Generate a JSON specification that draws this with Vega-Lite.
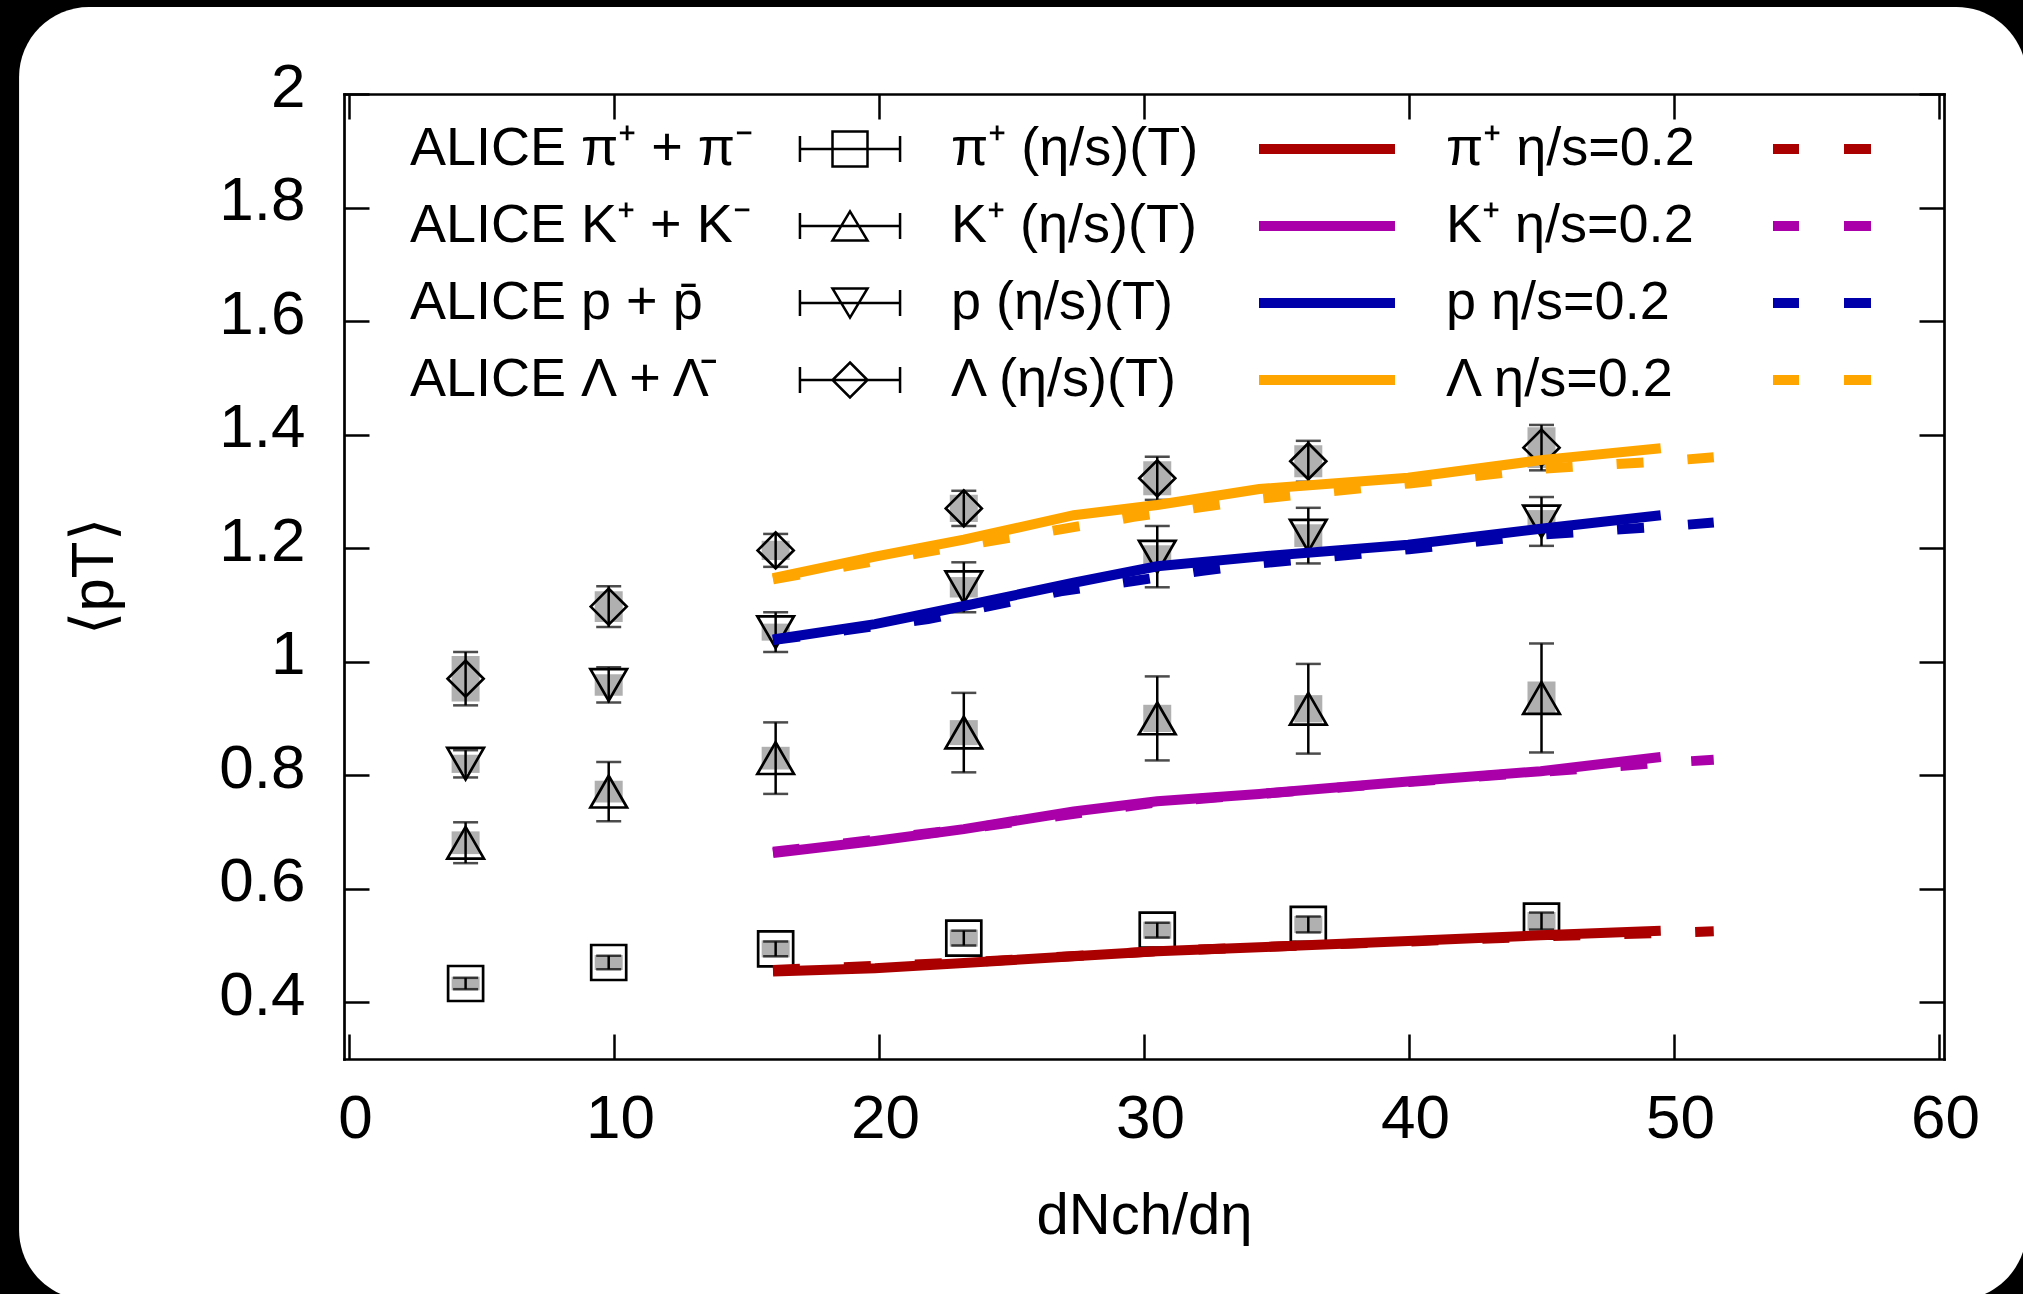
{
  "$schema": "https://vega.github.io/schema/vega-lite/v6.json",
  "width": 1600,
  "height": 965,
  "autosize": {"type": "none"},
  "padding": {"left": 344, "top": 94, "right": 79, "bottom": 235},
  "background": "black",
  "config": {
    "font": "Liberation Sans",
    "view": {"stroke": null},
    "axis": {
      "grid": false, "domainColor": "black", "domainWidth": 2.7, "domainCap": "square",
      "tickColor": "black", "tickWidth": 2.5, "tickSize": -25, "labelColor": "black", "titleColor": "black",
      "labelFont": "Liberation Sans", "titleFont": "Liberation Sans", "titleFontWeight": "normal",
      "labelFontSize": 62, "labelFlush": false, "labelOverlap": false
    },
    "legend": {
      "title": null, "orient": "none", "legendX": 66, "legendY": 28, "columns": 3, "direction": "horizontal",
      "columnPadding": 45, "rowPadding": 23, "padding": 0,
      "labelFont": "Liberation Sans", "labelFontSize": 54, "labelColor": "black", "labelLimit": 1000, "labelOffset": -27,
      "symbolSize": 1225, "symbolStrokeWidth": 2.5, "symbolOffset": -27, "symbolOpacity": 1, "gridAlign": "each", "zindex": 1
    }
  },
  "datasets": {
    "alice": [
      {"series": "ALICE π⁺ + π⁻", "x": 4.4, "y": 0.433, "lo": 0.423, "hi": 0.443, "slo": 0.421, "shi": 0.445},
      {"series": "ALICE π⁺ + π⁻", "x": 9.8, "y": 0.470, "lo": 0.458, "hi": 0.482, "slo": 0.457, "shi": 0.483},
      {"series": "ALICE π⁺ + π⁻", "x": 16.1, "y": 0.494, "lo": 0.481, "hi": 0.507, "slo": 0.479, "shi": 0.509},
      {"series": "ALICE π⁺ + π⁻", "x": 23.2, "y": 0.513, "lo": 0.500, "hi": 0.526, "slo": 0.498, "shi": 0.528},
      {"series": "ALICE π⁺ + π⁻", "x": 30.5, "y": 0.527, "lo": 0.514, "hi": 0.540, "slo": 0.512, "shi": 0.542},
      {"series": "ALICE π⁺ + π⁻", "x": 36.2, "y": 0.537, "lo": 0.523, "hi": 0.551, "slo": 0.522, "shi": 0.552},
      {"series": "ALICE π⁺ + π⁻", "x": 45.0, "y": 0.543, "lo": 0.528, "hi": 0.558, "slo": 0.527, "shi": 0.559},
      {"series": "ALICE K⁺ + K⁻", "x": 4.4, "y": 0.681, "lo": 0.645, "hi": 0.717, "slo": 0.661, "shi": 0.701},
      {"series": "ALICE K⁺ + K⁻", "x": 9.8, "y": 0.771, "lo": 0.719, "hi": 0.823, "slo": 0.752, "shi": 0.790},
      {"series": "ALICE K⁺ + K⁻", "x": 16.1, "y": 0.830, "lo": 0.767, "hi": 0.893, "slo": 0.810, "shi": 0.850},
      {"series": "ALICE K⁺ + K⁻", "x": 23.2, "y": 0.875, "lo": 0.805, "hi": 0.945, "slo": 0.853, "shi": 0.897},
      {"series": "ALICE K⁺ + K⁻", "x": 30.5, "y": 0.900, "lo": 0.826, "hi": 0.974, "slo": 0.876, "shi": 0.924},
      {"series": "ALICE K⁺ + K⁻", "x": 36.2, "y": 0.917, "lo": 0.838, "hi": 0.996, "slo": 0.893, "shi": 0.941},
      {"series": "ALICE K⁺ + K⁻", "x": 45.0, "y": 0.936, "lo": 0.840, "hi": 1.032, "slo": 0.907, "shi": 0.965},
      {"series": "ALICE p + p\u0304", "x": 4.4, "y": 0.820, "lo": 0.796, "hi": 0.844, "slo": 0.804, "shi": 0.836},
      {"series": "ALICE p + p\u0304", "x": 9.8, "y": 0.959, "lo": 0.928, "hi": 0.990, "slo": 0.940, "shi": 0.978},
      {"series": "ALICE p + p\u0304", "x": 16.1, "y": 1.052, "lo": 1.017, "hi": 1.087, "slo": 1.037, "shi": 1.067},
      {"series": "ALICE p + p\u0304", "x": 23.2, "y": 1.131, "lo": 1.087, "hi": 1.175, "slo": 1.113, "shi": 1.149},
      {"series": "ALICE p + p\u0304", "x": 30.5, "y": 1.185, "lo": 1.131, "hi": 1.239, "slo": 1.165, "shi": 1.205},
      {"series": "ALICE p + p\u0304", "x": 36.2, "y": 1.222, "lo": 1.173, "hi": 1.271, "slo": 1.202, "shi": 1.242},
      {"series": "ALICE p + p\u0304", "x": 45.0, "y": 1.247, "lo": 1.204, "hi": 1.290, "slo": 1.227, "shi": 1.267},
      {"series": "ALICE Λ + Λ\u0304", "x": 4.4, "y": 0.970, "lo": 0.923, "hi": 1.017, "slo": 0.930, "shi": 1.010},
      {"series": "ALICE Λ + Λ\u0304", "x": 9.8, "y": 1.097, "lo": 1.061, "hi": 1.133, "slo": 1.070, "shi": 1.124},
      {"series": "ALICE Λ + Λ\u0304", "x": 16.1, "y": 1.196, "lo": 1.167, "hi": 1.225, "slo": 1.179, "shi": 1.213},
      {"series": "ALICE Λ + Λ\u0304", "x": 23.2, "y": 1.270, "lo": 1.239, "hi": 1.301, "slo": 1.246, "shi": 1.294},
      {"series": "ALICE Λ + Λ\u0304", "x": 30.5, "y": 1.323, "lo": 1.285, "hi": 1.361, "slo": 1.293, "shi": 1.353},
      {"series": "ALICE Λ + Λ\u0304", "x": 36.2, "y": 1.353, "lo": 1.317, "hi": 1.389, "slo": 1.325, "shi": 1.381},
      {"series": "ALICE Λ + Λ\u0304", "x": 45.0, "y": 1.377, "lo": 1.337, "hi": 1.417, "slo": 1.341, "shi": 1.413}
    ],
    "solid": [
      {"series": "π⁺ (η/s)(T)", "x": 16.0, "y": 0.454}, {"series": "π⁺ (η/s)(T)", "x": 19.85, "y": 0.460},
      {"series": "π⁺ (η/s)(T)", "x": 23.2, "y": 0.469}, {"series": "π⁺ (η/s)(T)", "x": 27.35, "y": 0.481},
      {"series": "π⁺ (η/s)(T)", "x": 30.5, "y": 0.490}, {"series": "π⁺ (η/s)(T)", "x": 34.35, "y": 0.497},
      {"series": "π⁺ (η/s)(T)", "x": 39.97, "y": 0.508}, {"series": "π⁺ (η/s)(T)", "x": 44.97, "y": 0.518},
      {"series": "π⁺ (η/s)(T)", "x": 49.5, "y": 0.526},
      {"series": "K⁺ (η/s)(T)", "x": 16.0, "y": 0.663}, {"series": "K⁺ (η/s)(T)", "x": 19.85, "y": 0.684},
      {"series": "K⁺ (η/s)(T)", "x": 23.2, "y": 0.705}, {"series": "K⁺ (η/s)(T)", "x": 27.35, "y": 0.736},
      {"series": "K⁺ (η/s)(T)", "x": 30.5, "y": 0.754}, {"series": "K⁺ (η/s)(T)", "x": 34.35, "y": 0.767},
      {"series": "K⁺ (η/s)(T)", "x": 39.97, "y": 0.789}, {"series": "K⁺ (η/s)(T)", "x": 44.97, "y": 0.807},
      {"series": "K⁺ (η/s)(T)", "x": 49.5, "y": 0.832},
      {"series": "p (η/s)(T)", "x": 16.0, "y": 1.039}, {"series": "p (η/s)(T)", "x": 19.85, "y": 1.066},
      {"series": "p (η/s)(T)", "x": 23.2, "y": 1.098}, {"series": "p (η/s)(T)", "x": 27.35, "y": 1.139},
      {"series": "p (η/s)(T)", "x": 30.5, "y": 1.168}, {"series": "p (η/s)(T)", "x": 34.35, "y": 1.185},
      {"series": "p (η/s)(T)", "x": 39.97, "y": 1.206}, {"series": "p (η/s)(T)", "x": 44.97, "y": 1.234},
      {"series": "p (η/s)(T)", "x": 49.5, "y": 1.258},
      {"series": "Λ (η/s)(T)", "x": 16.0, "y": 1.147}, {"series": "Λ (η/s)(T)", "x": 19.85, "y": 1.185},
      {"series": "Λ (η/s)(T)", "x": 23.2, "y": 1.215}, {"series": "Λ (η/s)(T)", "x": 27.35, "y": 1.258},
      {"series": "Λ (η/s)(T)", "x": 30.5, "y": 1.276}, {"series": "Λ (η/s)(T)", "x": 34.35, "y": 1.304},
      {"series": "Λ (η/s)(T)", "x": 39.97, "y": 1.324}, {"series": "Λ (η/s)(T)", "x": 44.97, "y": 1.355},
      {"series": "Λ (η/s)(T)", "x": 49.5, "y": 1.376}
    ],
    "dashed": [
      {"series": "π⁺ η/s=0.2", "x": 16.0, "y": 0.457}, {"series": "π⁺ η/s=0.2", "x": 23.2, "y": 0.470},
      {"series": "π⁺ η/s=0.2", "x": 30.5, "y": 0.490}, {"series": "π⁺ η/s=0.2", "x": 40.0, "y": 0.507},
      {"series": "π⁺ η/s=0.2", "x": 45.0, "y": 0.516}, {"series": "π⁺ η/s=0.2", "x": 49.6, "y": 0.522},
      {"series": "π⁺ η/s=0.2", "x": 51.5, "y": 0.525},
      {"series": "K⁺ η/s=0.2", "x": 16.0, "y": 0.665}, {"series": "K⁺ η/s=0.2", "x": 23.2, "y": 0.705},
      {"series": "K⁺ η/s=0.2", "x": 30.5, "y": 0.752}, {"series": "K⁺ η/s=0.2", "x": 40.0, "y": 0.788},
      {"series": "K⁺ η/s=0.2", "x": 45.0, "y": 0.806}, {"series": "K⁺ η/s=0.2", "x": 49.6, "y": 0.822},
      {"series": "K⁺ η/s=0.2", "x": 51.5, "y": 0.827},
      {"series": "p η/s=0.2", "x": 16.0, "y": 1.038}, {"series": "p η/s=0.2", "x": 21.85, "y": 1.075},
      {"series": "p η/s=0.2", "x": 26.85, "y": 1.124}, {"series": "p η/s=0.2", "x": 29.6, "y": 1.142},
      {"series": "p η/s=0.2", "x": 32.2, "y": 1.160}, {"series": "p η/s=0.2", "x": 34.35, "y": 1.173},
      {"series": "p η/s=0.2", "x": 40.0, "y": 1.198}, {"series": "p η/s=0.2", "x": 45.0, "y": 1.224},
      {"series": "p η/s=0.2", "x": 49.6, "y": 1.238}, {"series": "p η/s=0.2", "x": 51.5, "y": 1.245},
      {"series": "Λ η/s=0.2", "x": 16.0, "y": 1.145}, {"series": "Λ η/s=0.2", "x": 21.85, "y": 1.194},
      {"series": "Λ η/s=0.2", "x": 26.85, "y": 1.233}, {"series": "Λ η/s=0.2", "x": 29.6, "y": 1.255},
      {"series": "Λ η/s=0.2", "x": 34.35, "y": 1.287}, {"series": "Λ η/s=0.2", "x": 40.0, "y": 1.314},
      {"series": "Λ η/s=0.2", "x": 45.0, "y": 1.340}, {"series": "Λ η/s=0.2", "x": 49.6, "y": 1.353},
      {"series": "Λ η/s=0.2", "x": 51.5, "y": 1.360}
    ]
  },
  "resolve": {"axis": {"x": "independent", "y": "independent"}},
  "layer": [
    {
      "data": {"values": [{"card": 1}]},
      "mark": {"type": "rect", "fill": "white", "cornerRadius": 70},
      "encoding": {
        "x": {"datum": -12.45, "type": "quantitative", "scale": {"domain": [0, 60], "nice": false, "zero": false}, "axis": null},
        "x2": {"datum": 63.3},
        "y": {"datum": 2.1533, "type": "quantitative", "scale": {"domain": [0.3, 2.0], "nice": false, "zero": false}, "axis": null},
        "y2": {"datum": -0.1246}
      }
    },
    {
      "data": {"values": []},
      "mark": {"type": "point", "filled": false, "strokeWidth": 2.5, "opacity": 1},
      "encoding": {
        "color": {"field": "series", "type": "nominal",
          "scale": {"domain": ["ALICE π⁺ + π⁻", "π⁺ (η/s)(T)", "π⁺ η/s=0.2", "ALICE K⁺ + K⁻", "K⁺ (η/s)(T)", "K⁺ η/s=0.2", "ALICE p + p\u0304", "p (η/s)(T)", "p η/s=0.2", "ALICE Λ + Λ\u0304", "Λ (η/s)(T)", "Λ η/s=0.2"],
            "range": ["black", "#aa0000", "#aa0000", "black", "#aa00aa", "#aa00aa", "black", "#0000aa", "#0000aa", "black", "#ffa500", "#ffa500"]}},
        "shape": {"field": "series", "type": "nominal",
          "scale": {"domain": ["ALICE π⁺ + π⁻", "π⁺ (η/s)(T)", "π⁺ η/s=0.2", "ALICE K⁺ + K⁻", "K⁺ (η/s)(T)", "K⁺ η/s=0.2", "ALICE p + p\u0304", "p (η/s)(T)", "p η/s=0.2", "ALICE Λ + Λ\u0304", "Λ (η/s)(T)", "Λ η/s=0.2"],
            "range": [
              "M24.143,-1H26.143V1H24.143ZM22.283,0H28.003M22.283,-0.74V0.74M28.003,-0.74V0.74",
              "M17.6,-0.2143H25.372M17.6,-0.0714H25.372M17.6,0.0714H25.372M17.6,0.2143H25.372",
              "M18.686,-0.2143H20.172M22.743,-0.2143H24.286M18.686,-0.0714H20.172M22.743,-0.0714H24.286M18.686,0.0714H20.172M22.743,0.0714H24.286M18.686,0.2143H20.172M22.743,0.2143H24.286",
              "M25.143,-0.83L26.143,0.83H24.143ZM22.283,0H28.003M22.283,-0.74V0.74M28.003,-0.74V0.74",
              "M17.6,-0.2143H25.372M17.6,-0.0714H25.372M17.6,0.0714H25.372M17.6,0.2143H25.372",
              "M18.686,-0.2143H20.172M22.743,-0.2143H24.286M18.686,-0.0714H20.172M22.743,-0.0714H24.286M18.686,0.0714H20.172M22.743,0.0714H24.286M18.686,0.2143H20.172M22.743,0.2143H24.286",
              "M25.143,0.83L26.143,-0.83H24.143ZM22.283,0H28.003M22.283,-0.74V0.74M28.003,-0.74V0.74",
              "M17.6,-0.2143H25.372M17.6,-0.0714H25.372M17.6,0.0714H25.372M17.6,0.2143H25.372",
              "M18.686,-0.2143H20.172M22.743,-0.2143H24.286M18.686,-0.0714H20.172M22.743,-0.0714H24.286M18.686,0.0714H20.172M22.743,0.0714H24.286M18.686,0.2143H20.172M22.743,0.2143H24.286",
              "M25.143,-1L26.143,0L25.143,1L24.143,0ZM22.283,0H28.003M22.283,-0.74V0.74M28.003,-0.74V0.74",
              "M17.6,-0.2143H25.372M17.6,-0.0714H25.372M17.6,0.0714H25.372M17.6,0.2143H25.372",
              "M18.686,-0.2143H20.172M22.743,-0.2143H24.286M18.686,-0.0714H20.172M22.743,-0.0714H24.286M18.686,0.0714H20.172M22.743,0.0714H24.286M18.686,0.2143H20.172M22.743,0.2143H24.286"
            ]}}
      }
    },
    {
      "data": {"name": "alice"},
      "mark": {"type": "bar", "width": 28, "color": "#b0b0b0"},
      "encoding": {
        "x": {"field": "x", "type": "quantitative", "scale": {"domain": [0, 60], "nice": false, "zero": false},
          "axis": {"zindex": 1, "orient": "bottom", "values": [0, 10, 20, 30, 40, 50, 60], "labelPadding": 103, "labelBaseline": "alphabetic", "labelOffset": 6,
            "title": "dNch/dη", "titleFontSize": 58, "titleBaseline": "alphabetic", "titleX": 800, "titleY": 174, "titleAnchor": "middle", "titleAlign": "center"}},
        "y": {"field": "slo", "type": "quantitative", "scale": {"domain": [0.3, 2.0], "nice": false, "zero": false},
          "axis": {"zindex": 1, "orient": "left", "values": [0.4, 0.6, 0.8, 1, 1.2, 1.4, 1.6, 1.8, 2], "format": "~g", "labelPadding": 64, "labelBaseline": "alphabetic", "labelOffset": 12,
            "title": "⟨pT⟩", "titleFontSize": 60, "titleAngle": 270, "titleBaseline": "alphabetic", "titleX": -232, "titleY": 482, "titleAlign": "center"}},
        "y2": {"field": "shi"}
      }
    },
    {
      "data": {"name": "alice"},
      "mark": {"type": "errorbar", "ticks": {"size": 25, "thickness": 2.5, "color": "black"}, "thickness": 2.5, "color": "black"},
      "encoding": {
        "x": {"field": "x", "type": "quantitative", "axis": null},
        "y": {"field": "lo", "type": "quantitative", "axis": null},
        "y2": {"field": "hi"}
      }
    },
    {
      "data": {"name": "alice"},
      "transform": [{"filter": {"field": "series", "equal": "ALICE π⁺ + π⁻"}}],
      "mark": {"type": "point", "shape": "square", "filled": false, "strokeWidth": 2.7, "size": 1225, "opacity": 1, "color": "black"},
      "encoding": {
        "x": {"field": "x", "type": "quantitative", "axis": {"zindex": 1, "orient": "top", "values": [0, 10, 20, 30, 40, 50, 60], "labels": false, "title": null}},
        "y": {"field": "y", "type": "quantitative", "axis": {"zindex": 1, "orient": "right", "values": [0.4, 0.6, 0.8, 1, 1.2, 1.4, 1.6, 1.8, 2], "labels": false, "title": null}}
      }
    },
    {
      "data": {"name": "alice"},
      "transform": [{"filter": {"field": "series", "equal": "ALICE K⁺ + K⁻"}}],
      "mark": {"type": "point", "shape": "triangle-up", "filled": false, "strokeWidth": 2.7, "size": 1340, "opacity": 1, "color": "black"},
      "encoding": {
        "x": {"field": "x", "type": "quantitative", "axis": null},
        "y": {"field": "y", "type": "quantitative", "axis": null}
      }
    },
    {
      "data": {"name": "alice"},
      "transform": [{"filter": {"field": "series", "equal": "ALICE p + p\u0304"}}],
      "mark": {"type": "point", "shape": "triangle-down", "filled": false, "strokeWidth": 2.7, "size": 1340, "opacity": 1, "color": "black"},
      "encoding": {
        "x": {"field": "x", "type": "quantitative", "axis": null},
        "y": {"field": "y", "type": "quantitative", "axis": null}
      }
    },
    {
      "data": {"name": "alice"},
      "transform": [{"filter": {"field": "series", "equal": "ALICE Λ + Λ\u0304"}}],
      "mark": {"type": "point", "shape": "diamond", "filled": false, "strokeWidth": 2.7, "size": 1296, "opacity": 1, "color": "black"},
      "encoding": {
        "x": {"field": "x", "type": "quantitative", "axis": null},
        "y": {"field": "y", "type": "quantitative", "axis": null}
      }
    },
    {
      "data": {"name": "solid"},
      "mark": {"type": "line", "strokeWidth": 10, "strokeCap": "butt"},
      "encoding": {
        "x": {"field": "x", "type": "quantitative", "axis": null},
        "y": {"field": "y", "type": "quantitative", "axis": null},
        "color": {"field": "series", "type": "nominal",
          "scale": {"domain": ["ALICE π⁺ + π⁻", "π⁺ (η/s)(T)", "π⁺ η/s=0.2", "ALICE K⁺ + K⁻", "K⁺ (η/s)(T)", "K⁺ η/s=0.2", "ALICE p + p\u0304", "p (η/s)(T)", "p η/s=0.2", "ALICE Λ + Λ\u0304", "Λ (η/s)(T)", "Λ η/s=0.2"],
            "range": ["black", "#aa0000", "#aa0000", "black", "#aa00aa", "#aa00aa", "black", "#0000aa", "#0000aa", "black", "#ffa500", "#ffa500"]}}
      }
    },
    {
      "data": {"name": "dashed"},
      "mark": {"type": "line", "strokeWidth": 10, "strokeCap": "butt", "strokeDash": [27, 44]},
      "encoding": {
        "x": {"field": "x", "type": "quantitative", "axis": null},
        "y": {"field": "y", "type": "quantitative", "axis": null},
        "color": {"field": "series", "type": "nominal",
          "scale": {"domain": ["ALICE π⁺ + π⁻", "π⁺ (η/s)(T)", "π⁺ η/s=0.2", "ALICE K⁺ + K⁻", "K⁺ (η/s)(T)", "K⁺ η/s=0.2", "ALICE p + p\u0304", "p (η/s)(T)", "p η/s=0.2", "ALICE Λ + Λ\u0304", "Λ (η/s)(T)", "Λ η/s=0.2"],
            "range": ["black", "#aa0000", "#aa0000", "black", "#aa00aa", "#aa00aa", "black", "#0000aa", "#0000aa", "black", "#ffa500", "#ffa500"]}}
      }
    }
  ]
}
